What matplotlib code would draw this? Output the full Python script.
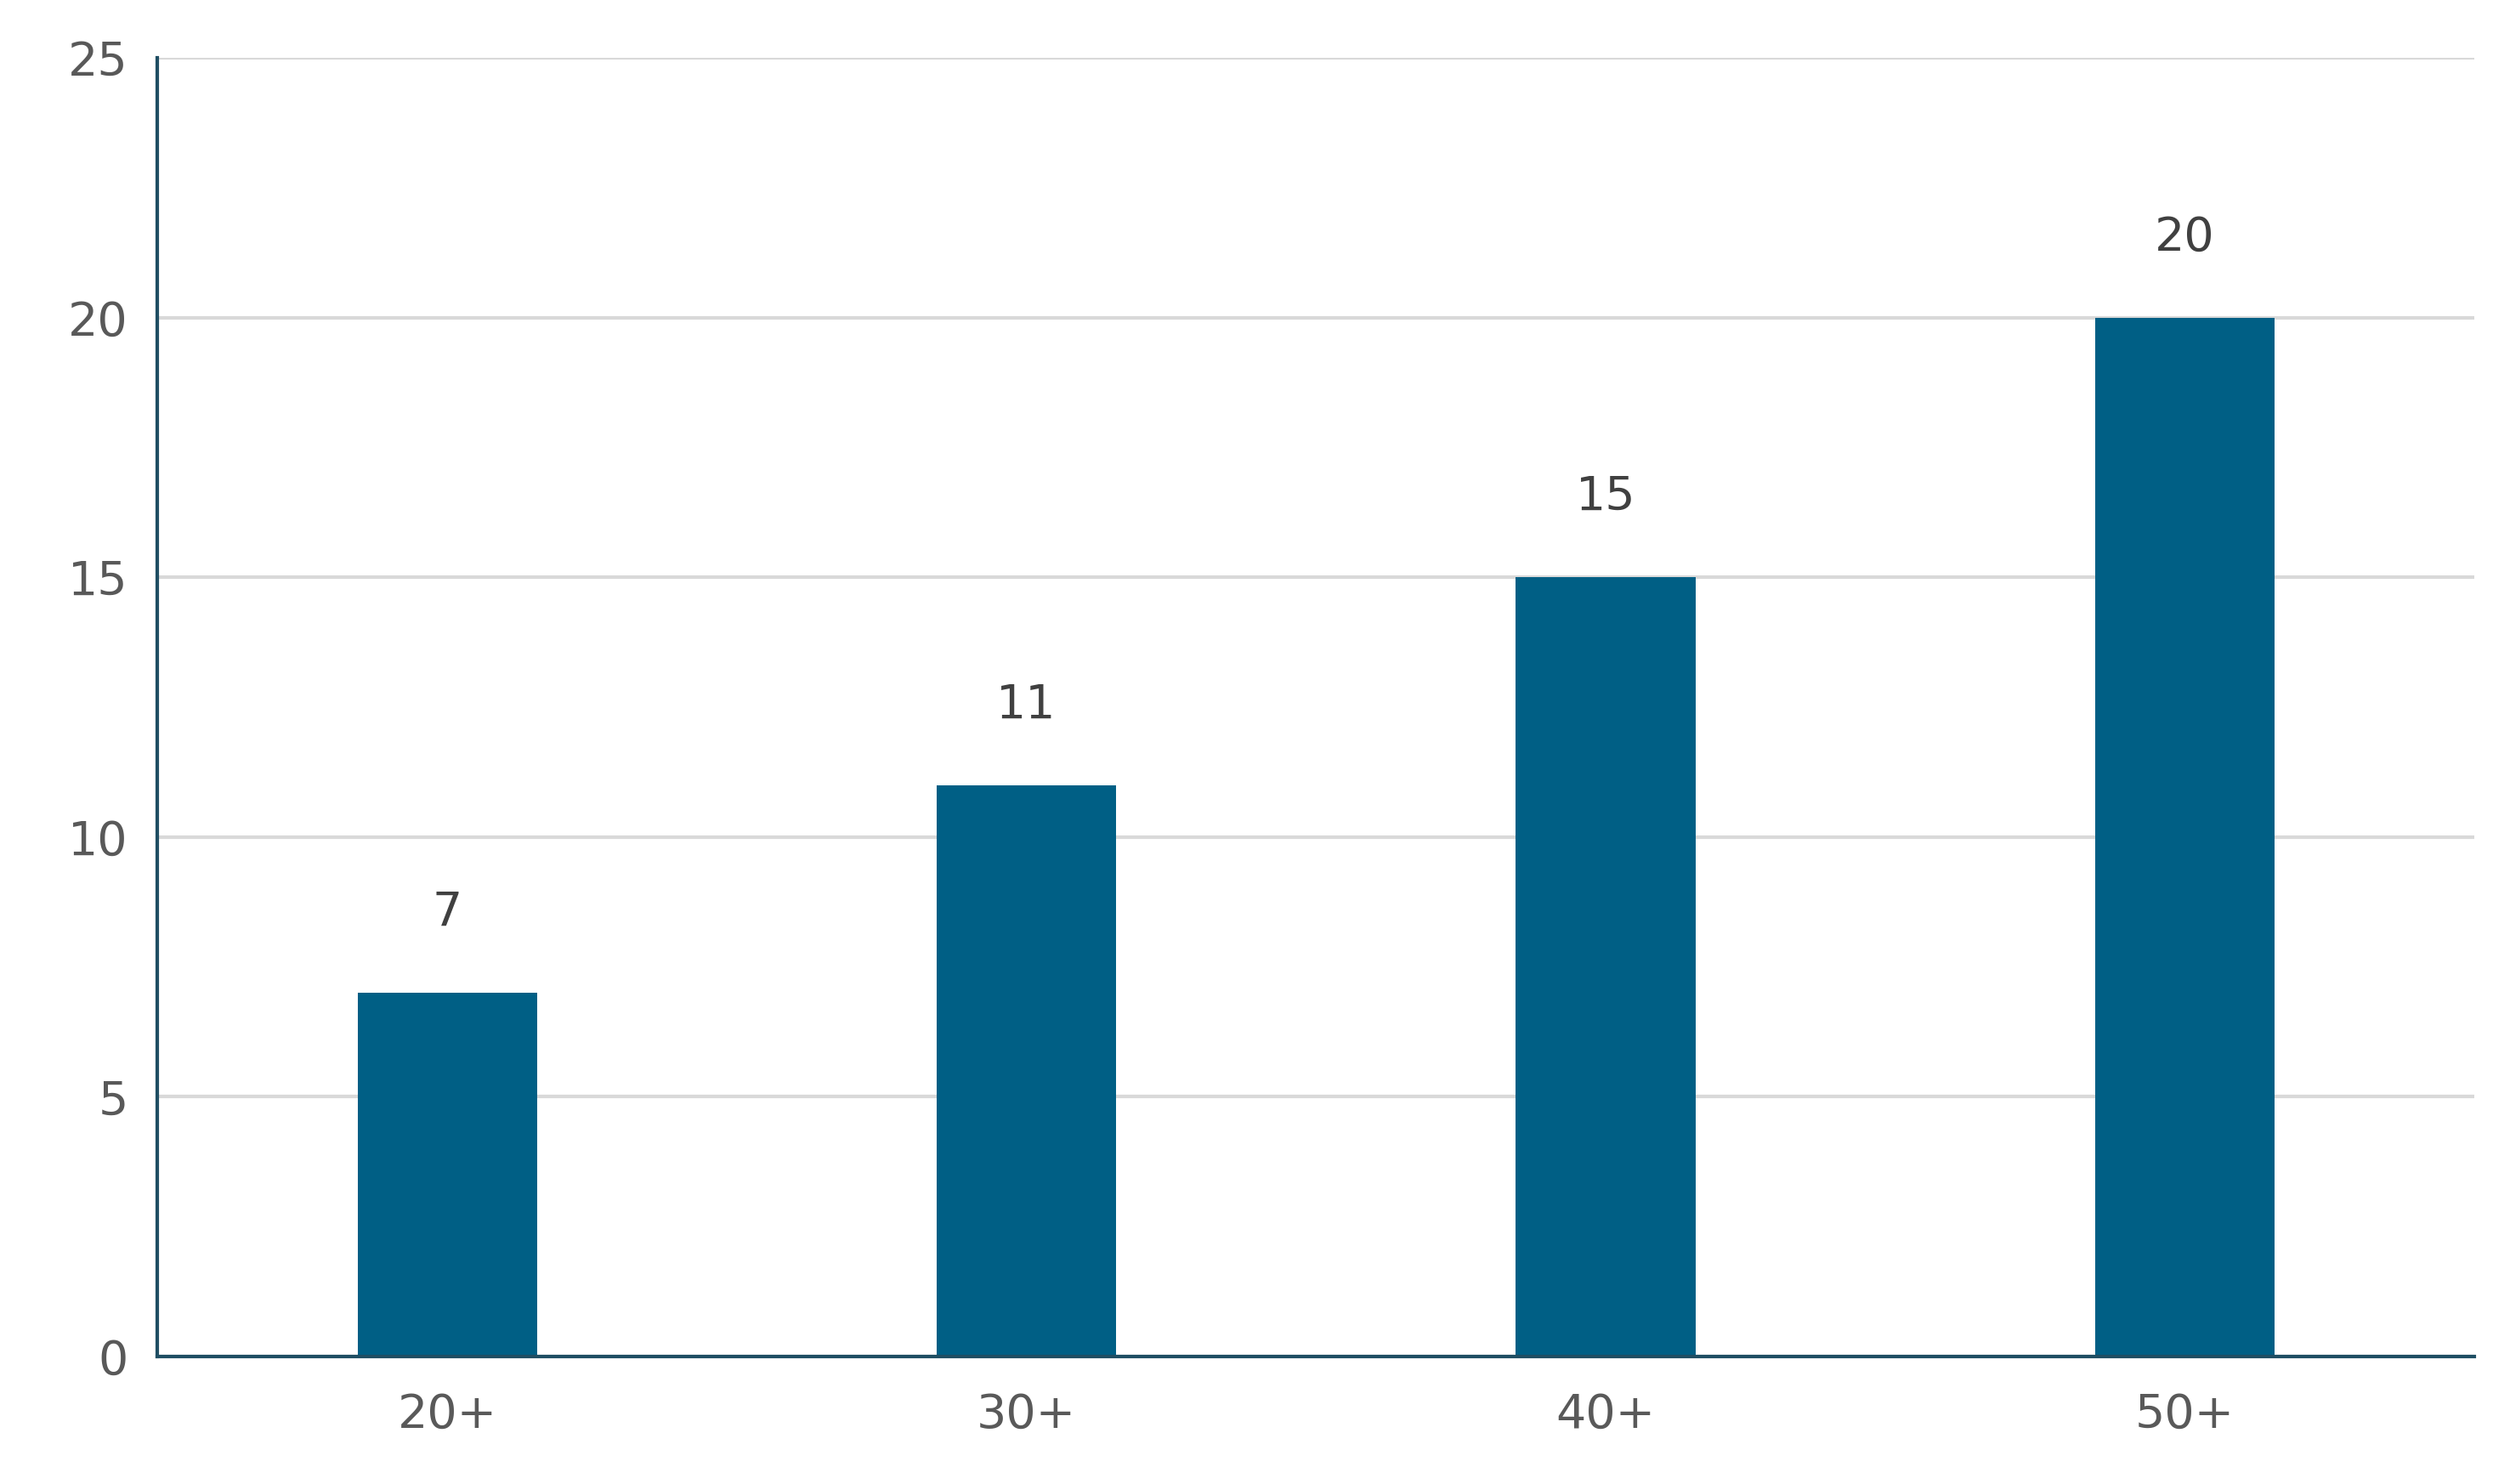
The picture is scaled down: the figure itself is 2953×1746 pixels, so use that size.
import matplotlib.pyplot as plt

categories = ["20+", "30+", "40+", "50+"]
values = [7, 11, 15, 20]

plt.rcParams["font.family"] = "DejaVu Sans"
fig = plt.figure(figsize=(29.53, 17.46), dpi=100)
ax = fig.add_axes([0.0628, 0.086, 0.923, 0.875])

x = range(len(categories))
ax.bar(x, values, width=0.31, color="#005f85", zorder=3)
for i, v in zip(x, values):
    ax.text(i, v + 1.1, str(v), ha="center", va="bottom", fontsize=40, color="#404040")

ax.set_xlim(-0.5, 3.5)
ax.set_ylim(0, 25)
ax.set_yticks([0, 5, 10, 15, 20, 25])
ax.set_xticks(list(x))
ax.set_xticklabels(categories)
ax.tick_params(axis="both", length=0, labelsize=40, labelcolor="#595959")
ax.tick_params(axis="y", pad=25)
ax.tick_params(axis="x", pad=30)
ax.yaxis.grid(True, color="#d9d9d9", linewidth=3, zorder=0)
for s in ["top", "right"]:
    ax.spines[s].set_visible(False)
for s in ["left", "bottom"]:
    ax.spines[s].set_color("#1f4e63")
    ax.spines[s].set_linewidth(3)
    ax.spines[s].set_zorder(4)

fig.savefig("out.png", dpi=100)
